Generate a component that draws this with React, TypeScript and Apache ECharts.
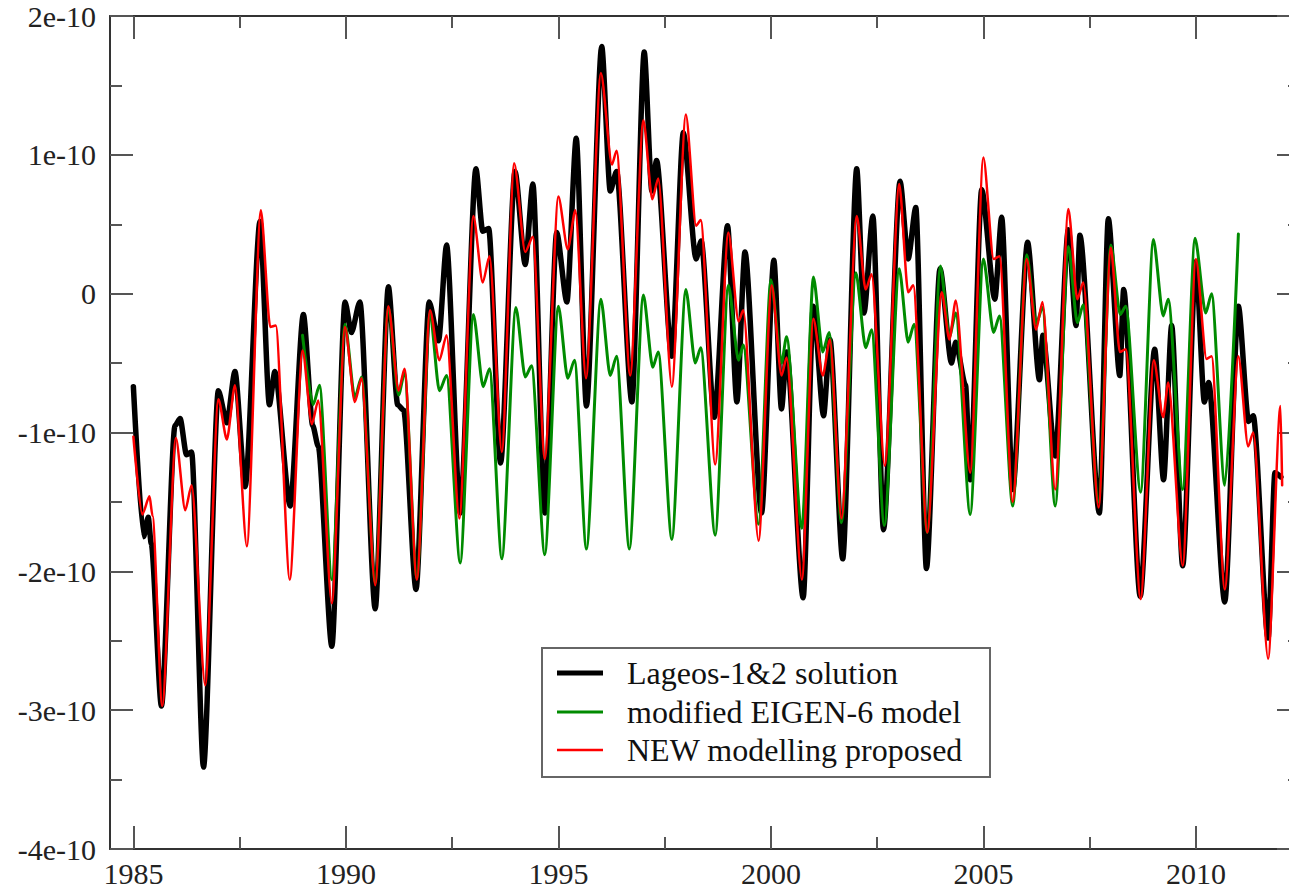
import React, { useEffect, useRef } from "react";
import * as echarts from "echarts";

// Values in units of 1e-10
const lageosYears = [
  1985.0, 1985.24, 1985.35, 1985.42, 1985.66, 1985.98, 1986.1, 1986.25, 1986.37, 1986.65,
  1987.0, 1987.2, 1987.39, 1987.63, 1987.98, 1988.2, 1988.33, 1988.69, 1989.0, 1989.22,
  1989.35, 1989.67, 1989.98, 1990.13, 1990.33, 1990.69, 1991.0, 1991.22, 1991.36, 1991.65,
  1991.96, 1992.18, 1992.37, 1992.69, 1993.06, 1993.22, 1993.36, 1993.64, 1993.98, 1994.22,
  1994.4, 1994.68, 1994.96, 1995.2, 1995.42, 1995.66, 1996.02, 1996.22, 1996.37, 1996.73,
  1997.02, 1997.2, 1997.31, 1997.67, 1997.94, 1998.24, 1998.36, 1998.67, 1998.98, 1999.2,
  1999.39, 1999.78, 2000.07, 2000.25, 2000.37, 2000.76, 2001.0, 2001.24, 2001.39, 2001.69,
  2002.02, 2002.19, 2002.4, 2002.65, 2003.04, 2003.23, 2003.41, 2003.66, 2003.98, 2004.25,
  2004.35, 2004.58, 2004.69, 2004.96, 2005.27, 2005.43, 2005.69, 2006.04, 2006.32, 2006.4,
  2006.69, 2007.0, 2007.18, 2007.27, 2007.73, 2007.94, 2008.21, 2008.3, 2008.69, 2009.03,
  2009.24, 2009.43, 2009.69, 2010.0, 2010.2, 2010.3, 2010.68, 2011.0, 2011.24, 2011.35,
  2011.7, 2011.86, 2012.0,
];
const lageosVals = [
  -0.67, -1.75, -1.61, -1.8, -2.97, -0.95, -0.9, -1.16, -1.14, -3.41,
  -0.7, -0.93, -0.56, -1.39, 0.52, -0.8, -0.56, -1.53, -0.15, -0.95,
  -1.1, -2.54, -0.06, -0.28, -0.06, -2.27, 0.05, -0.8, -0.84, -2.13,
  -0.06, -0.34, 0.35, -1.58, 0.9, 0.45, 0.47, -1.22, 0.88, 0.21,
  0.79, -1.58, 0.44, -0.06, 1.12, -0.81, 1.78, 0.74, 0.88, -0.78,
  1.74, 0.74, 0.96, -0.45, 1.16, 0.25, 0.38, -0.89, 0.49, -0.78,
  0.3, -1.58, 0.24, -0.83, -0.42, -2.19, -0.09, -0.88, -0.33, -1.91,
  0.9, -0.14, 0.56, -1.7, 0.81, 0.25, 0.62, -1.98, 0.18, -0.5,
  -0.35, -0.66, -1.34, 0.75, -0.04, 0.55, -1.41, 0.37, -0.62, -0.3,
  -1.17, 0.46, -0.23, 0.42, -1.58, 0.54, -0.59, 0.03, -2.18, -0.4,
  -1.34, -0.23, -1.96, 0.23, -0.78, -0.64, -2.22, -0.09, -0.92, -0.88,
  -2.48, -1.29, -1.32,
];

const eigenYears = [
  1988.98, 1989.23, 1989.38, 1989.67, 1989.98, 1990.21, 1990.37, 1990.69, 1991.0, 1991.24,
  1991.38, 1991.67, 1991.98, 1992.2, 1992.37, 1992.69, 1993.0, 1993.23, 1993.38, 1993.67,
  1994.0, 1994.22, 1994.37, 1994.68, 1995.0, 1995.22, 1995.38, 1995.66, 1996.0, 1996.22,
  1996.37, 1996.67, 1997.0, 1997.22, 1997.35, 1997.67, 1998.0, 1998.22, 1998.35, 1998.69,
  1999.0, 1999.24, 1999.35, 1999.71, 2000.0, 2000.25, 2000.37, 2000.73, 2001.0, 2001.22,
  2001.37, 2001.66, 2002.0, 2002.23, 2002.37, 2002.67, 2003.02, 2003.23, 2003.37, 2003.68,
  2003.99, 2004.2, 2004.35, 2004.69, 2005.0, 2005.24, 2005.38, 2005.69, 2006.02, 2006.24,
  2006.39, 2006.69, 2007.0, 2007.21, 2007.35, 2007.71, 2008.0, 2008.22, 2008.35, 2008.7,
  2009.0, 2009.23, 2009.35, 2009.69, 2009.98, 2010.23, 2010.37, 2010.68, 2011.0,
];
const eigenVals = [
  -0.3, -0.8, -0.66, -2.06, -0.22, -0.75, -0.6, -2.08, -0.1, -0.73,
  -0.57, -2.05, -0.14, -0.7, -0.59, -1.94, -0.15, -0.67, -0.54, -1.91,
  -0.1, -0.6, -0.52, -1.88, -0.09, -0.61, -0.48, -1.84, -0.04, -0.59,
  -0.45, -1.84, -0.01, -0.53, -0.42, -1.77, 0.03, -0.5, -0.39, -1.74,
  0.06, -0.48, -0.37, -1.66, 0.1, -0.5, -0.31, -1.69, 0.12, -0.42,
  -0.28, -1.65, 0.15, -0.39, -0.26, -1.67, 0.18, -0.35, -0.22, -1.72,
  0.2, -0.31, -0.14, -1.59, 0.25, -0.28, -0.16, -1.53, 0.28, -0.22,
  -0.1, -1.53, 0.34, -0.21, -0.08, -1.5, 0.35, -0.15, -0.09, -1.43,
  0.39, -0.16, -0.04, -1.41, 0.4, -0.14, 0.0, -1.38, 0.43,
];

const newYears = [
  1985.0, 1985.21, 1985.38, 1985.45, 1985.68, 1986.0, 1986.22, 1986.37, 1986.69, 1987.0,
  1987.2, 1987.39, 1987.67, 1988.0, 1988.22, 1988.35, 1988.68, 1988.98, 1989.2, 1989.35,
  1989.67, 1989.98, 1990.21, 1990.37, 1990.69, 1991.0, 1991.24, 1991.38, 1991.67, 1991.98,
  1992.2, 1992.37, 1992.67, 1993.0, 1993.22, 1993.38, 1993.67, 1993.96, 1994.22, 1994.4,
  1994.68, 1995.0, 1995.22, 1995.4, 1995.65, 1996.0, 1996.26, 1996.37, 1996.69, 1997.0,
  1997.21, 1997.35, 1997.67, 1998.0, 1998.24, 1998.35, 1998.69, 1999.0, 1999.24, 1999.35,
  1999.71, 2000.02, 2000.25, 2000.37, 2000.73, 2001.0, 2001.22, 2001.39, 2001.66, 2002.02,
  2002.23, 2002.37, 2002.68, 2003.02, 2003.23, 2003.35, 2003.68, 2004.02, 2004.2, 2004.35,
  2004.69, 2005.0, 2005.24, 2005.38, 2005.69, 2006.02, 2006.24, 2006.39, 2006.69, 2007.0,
  2007.21, 2007.35, 2007.71, 2008.0, 2008.21, 2008.35, 2008.7, 2009.01, 2009.23, 2009.35,
  2009.69, 2010.0, 2010.25, 2010.37, 2010.68, 2011.0, 2011.23, 2011.35, 2011.7, 2011.99,
  2012.03,
];
const newVals = [
  -1.03, -1.59, -1.46, -1.6, -2.97, -1.04, -1.56, -1.38, -2.82, -0.76,
  -1.05, -0.66, -1.82, 0.6, -0.24, -0.23, -2.06, -0.41, -0.94, -0.77,
  -2.23, -0.24, -0.78, -0.61, -2.1, -0.09, -0.7, -0.54, -2.06, -0.12,
  -0.48, -0.3, -1.62, 0.56, 0.08, 0.27, -1.14, 0.94, 0.3, 0.41,
  -1.19, 0.7, 0.32, 0.6, -0.61, 1.59, 0.93, 1.03, -0.59, 1.25,
  0.68, 0.83, -0.67, 1.29, 0.49, 0.53, -1.23, 0.44, -0.2, -0.12,
  -1.78, 0.06, -0.59, -0.46, -2.06, -0.18, -0.59, -0.33, -1.62, 0.56,
  0.03, 0.14, -1.24, 0.79, 0.01, 0.06, -1.72, 0.01, -0.33, -0.05,
  -1.29, 0.98, 0.25, 0.27, -1.5, 0.25, -0.26, -0.06, -1.41, 0.61,
  -0.04, 0.08, -1.54, 0.33, -0.42, -0.4, -2.2, -0.48, -0.89, -0.64,
  -1.96, 0.25, -0.47, -0.45, -2.13, -0.45, -1.1, -1.0, -2.63, -0.81,
  -1.38,
];

const majorYears = [1985, 1990, 1995, 2000, 2005, 2010];
const minorYears = [1987.5, 1992.5, 1997.5, 2002.5, 2007.5];
const seriesNames = ["Lageos-1&2 solution", "modified EIGEN-6 model", "NEW modelling proposed"];
const seriesColors = ["#000000", "#008b00", "#ff0000"];

const zip = (xs: number[], ys: number[]) => xs.map((x, i) => [x, ys[i]]);

const FONT = '"Liberation Serif", "Times New Roman", Times, serif';

export default function App() {
  const ref = useRef<HTMLDivElement>(null);

  useEffect(() => {
    if (!ref.current) return;
    const chart = echarts.init(ref.current, null, { renderer: "svg" });

    const xCommon = {
      type: "value",
      min: 1984.45,
      max: 2012.45,
      splitLine: { show: false },
      minorSplitLine: { show: false },
    };
    const axisLineStyle = { color: "#333", width: 2 };
    const tickStyle = { color: "#555", width: 2 };

    const xAxes = [
      {
        ...xCommon,
        position: "bottom",
        axisLine: { show: true, onZero: false, lineStyle: axisLineStyle },
        axisTick: { show: true, inside: true, length: 23, lineStyle: tickStyle, customValues: majorYears },
        axisLabel: {
          show: true,
          customValues: majorYears,
          fontFamily: FONT,
          fontSize: 30,
          color: "#222",
          margin: 9,
          formatter: (v: number) => String(Math.round(v)),
        },
      },
      {
        ...xCommon,
        position: "bottom",
        axisLine: { show: false, onZero: false },
        axisTick: { show: true, inside: true, length: 12, lineStyle: tickStyle, customValues: minorYears },
        axisLabel: { show: false },
      },
      {
        ...xCommon,
        position: "top",
        axisLine: { show: true, onZero: false, lineStyle: axisLineStyle },
        axisTick: { show: true, inside: true, length: 23, lineStyle: tickStyle, customValues: majorYears },
        axisLabel: { show: false },
      },
      {
        ...xCommon,
        position: "top",
        axisLine: { show: false, onZero: false },
        axisTick: { show: true, inside: true, length: 12, lineStyle: tickStyle, customValues: minorYears },
        axisLabel: { show: false },
      },
    ];

    const yCommon = {
      type: "value",
      min: -4,
      max: 2,
      interval: 1,
      splitLine: { show: false },
      minorSplitLine: { show: false },
      axisLine: { show: true, onZero: false, lineStyle: axisLineStyle },
      axisTick: { show: true, inside: true, length: 23, lineStyle: tickStyle },
      minorTick: { show: true, splitNumber: 2, length: 12, lineStyle: tickStyle },
    };

    const yAxes = [
      {
        ...yCommon,
        position: "left",
        axisLabel: {
          show: true,
          fontFamily: FONT,
          fontSize: 30,
          color: "#222",
          margin: 14,
          formatter: (v: number) => (v === 0 ? "0" : `${v}e-10`),
        },
      },
      {
        ...yCommon,
        position: "right",
        axisLabel: { show: false },
      },
    ];

    const datasets = [
      zip(lageosYears, lageosVals),
      zip(eigenYears, eigenVals),
      zip(newYears, newVals),
    ];
    const widths = [5.5, 3, 2.5];

    const series = datasets.map((d, i) => ({
      name: seriesNames[i],
      type: "line",
      data: d,
      xAxisIndex: 0,
      yAxisIndex: 0,
      showSymbol: false,
      symbol: "none",
      smooth: 0.25,
      smoothMonotone: "x",
      lineStyle: { color: seriesColors[i], width: widths[i], join: "round", cap: "round" },
      z: 2 + i,
      silent: true,
    }));

    const legendX = 542;
    const legendY = 648;
    const rowYs = [673, 712, 750];
    const legendLineWidths = [5, 3, 2.5];

    const graphic: any[] = [
      {
        type: "rect",
        z: 100,
        shape: { x: legendX, y: legendY, width: 448, height: 129 },
        style: { fill: "#ffffff", stroke: "#666", lineWidth: 2 },
      },
    ];
    seriesNames.forEach((name, i) => {
      graphic.push({
        type: "line",
        z: 101,
        shape: { x1: 557, y1: rowYs[i], x2: 603, y2: rowYs[i] },
        style: { stroke: seriesColors[i], lineWidth: legendLineWidths[i] },
      });
      graphic.push({
        type: "text",
        z: 101,
        x: 627,
        y: rowYs[i],
        style: {
          text: name,
          fontFamily: FONT,
          fontSize: 32,
          fill: "#111",
          verticalAlign: "middle",
          align: "left",
        },
      });
    });

    chart.setOption({
      animation: false,
      backgroundColor: "#ffffff",
      grid: { left: 110, top: 16, right: 1, bottom: 41, containLabel: false },
      xAxis: xAxes,
      yAxis: yAxes,
      series,
      graphic,
    });

    return () => chart.dispose();
  }, []);

  return (
    <div
      style={{
        position: "fixed",
        left: 0,
        top: 0,
        width: 1289,
        height: 890,
        overflow: "hidden",
        background: "#fff",
      }}
    >
      <div ref={ref} style={{ width: 1301, height: 890 }} />
    </div>
  );
}
